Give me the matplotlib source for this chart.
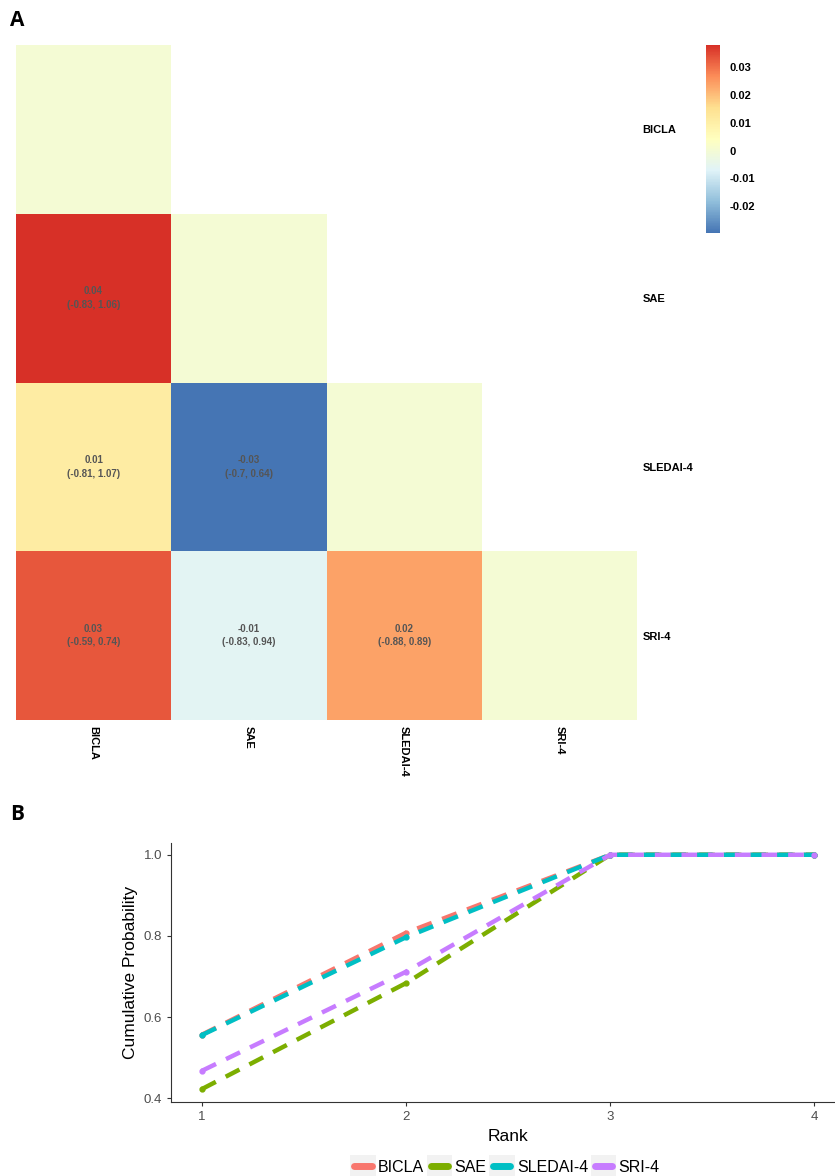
import matplotlib
matplotlib.use("Agg")
import matplotlib.pyplot as plt
import numpy as np
from matplotlib.colors import LinearSegmentedColormap
from matplotlib.legend_handler import HandlerLine2D
from matplotlib.lines import Line2D
from matplotlib.patches import Rectangle

plt.rcParams['font.family'] = ['Liberation Sans', 'DejaVu Sans']

# Panel A data: league table of outcomes (lower triangle)
outcomes = ["BICLA", "SAE", "SLEDAI-4", "SRI-4"]
# (row, col, estimate, ci_low, ci_high)
pair_rows = [1, 2, 2, 3, 3, 3]
pair_cols = [0, 0, 1, 0, 1, 2]
pair_est = [0.038, 0.011, -0.0296, 0.033, -0.006, 0.024]
pair_lo = [-0.83, -0.81, -0.7, -0.59, -0.83, -0.88]
pair_hi = [1.06, 1.07, 0.64, 0.74, 0.94, 0.89]
cbar_ticks = [-0.02, -0.01, 0, 0.01, 0.02, 0.03]

# Panel B data: cumulative rank probabilities
ranks = [1, 2, 3, 4]
cum_prob = {
    "BICLA": [0.557, 0.808, 1.0, 1.0],
    "SAE": [0.423, 0.684, 1.0, 1.0],
    "SLEDAI-4": [0.556, 0.797, 1.0, 1.0],
    "SRI-4": [0.468, 0.712, 1.0, 1.0],
}
line_colors = ["#F8766D", "#7CAE00", "#00BFC4", "#C77CFF"]

W, H = 835, 1176
fig = plt.figure(figsize=(W / 100, H / 100), dpi=100)


def px_axes(x0, y0, x1, y1):
    return fig.add_axes([x0 / W, 1 - y1 / H, (x1 - x0) / W, (y1 - y0) / H])


# ---- Panel A ----
n = len(outcomes)
mat = np.full((n, n), np.nan)
for i in range(n):
    mat[i, i] = 0.0
for r, c, e in zip(pair_rows, pair_cols, pair_est):
    mat[r, c] = e

cmap = LinearSegmentedColormap.from_list(
    "rdylbu", ["#4575b4", "#91bfdb", "#e0f3f8", "#ffffbf", "#fee090", "#fc8d59", "#d73027"])
vmin, vmax = np.nanmin(mat), np.nanmax(mat)

axA = px_axes(16, 45, 637, 720)
mesh = axA.pcolormesh(np.ma.masked_invalid(mat), cmap=cmap, vmin=vmin, vmax=vmax)
axA.set_xlim(0, n)
axA.set_ylim(n, 0)
for r, c, e, lo, hi in zip(pair_rows, pair_cols, pair_est, pair_lo, pair_hi):
    axA.text(c + 0.5, r + 0.5, f"{e:.2f}\n({lo:g}, {hi:g})", ha="center", va="center",
             fontsize=7, fontweight="bold", color="#555555", linespacing=1.45)
for s in axA.spines.values():
    s.set_visible(False)
axA.set_xticks([i + 0.5 for i in range(n)])
axA.set_xticklabels(outcomes, rotation=-90, fontsize=8, fontweight="bold")
axA.set_yticks([i + 0.5 for i in range(n)])
axA.set_yticklabels(outcomes, fontsize=8, fontweight="bold")
axA.yaxis.tick_right()
axA.tick_params(length=0, pad=4)

cax = px_axes(706, 45, 720, 233)
cb = fig.colorbar(mesh, cax=cax)
cb.outline.set_visible(False)
cb.set_ticks(cbar_ticks)
cb.set_ticklabels([f"{t:g}" for t in cbar_ticks])
cax.tick_params(length=3, color="white", width=0.8, labelsize=8, pad=4)
for lab in cax.get_yticklabels():
    lab.set_fontweight("bold")

fig.text(10 / W, 1 - 20 / H, "A", fontsize=15, fontweight="bold", family="Open Sans", va="center")
fig.text(10 / W, 1 - 815 / H, "B", fontsize=15, fontweight="bold", family="Open Sans", va="center")

# ---- Panel B ----
axB = px_axes(171.4, 843, 845, 1102)
for name, col in zip(outcomes, line_colors):
    axB.plot(ranks, cum_prob[name], color=col, lw=3.2, linestyle=(0, (3.5, 2.5)),
             dash_capstyle="butt", marker="o", markersize=3.5, label=name)
axB.set_xlim(0.85, 4.15)
axB.set_ylim(0.391, 1.029)
axB.set_xticks(ranks)
axB.set_yticks([0.4, 0.6, 0.8, 1.0])
axB.set_yticklabels(["0.4", "0.6", "0.8", "1.0"])
axB.spines["top"].set_visible(False)
axB.spines["right"].set_visible(False)
axB.spines["left"].set_color("#333333")
axB.spines["bottom"].set_color("#333333")
axB.tick_params(labelsize=9.5, colors="#333333", labelcolor="#4D4D4D", length=3)
axB.set_xlabel("Rank", fontsize=12.5)
axB.set_ylabel("Cumulative Probability", fontsize=12.5)


class KeyHandler(HandlerLine2D):
    # grey key background like ggplot legend keys
    def create_artists(self, legend, orig_handle, xdescent, ydescent, width, height, fontsize, trans):
        bg = Rectangle((-xdescent, -ydescent - 4), width, height + 8, facecolor="#F2F2F2",
                       edgecolor="none", transform=trans)
        ln = Line2D([-xdescent + 3, width - xdescent - 3], [height / 2 - ydescent] * 2,
                    color=orig_handle.get_color(), lw=5, solid_capstyle="round", transform=trans)
        return [bg, ln]


key_handles = [Line2D([], [], color=c) for c in line_colors]
fig.legend(key_handles, outcomes, loc="center", bbox_to_anchor=(505 / W, 1 - 1167 / H),
           ncol=4, frameon=False, fontsize=11.5, handlelength=1.6, handletextpad=0.15,
           columnspacing=0.15, handler_map={Line2D: KeyHandler()})

fig.savefig("out.png", dpi=100)
